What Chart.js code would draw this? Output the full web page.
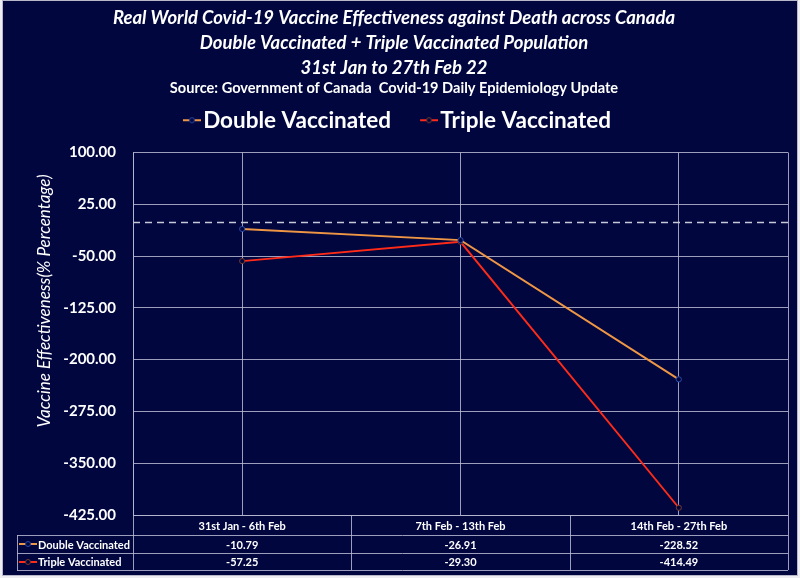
<!DOCTYPE html>
<html>
<head>
<meta charset="utf-8">
<script src="https://cdn.jsdelivr.net/npm/chart.js@4.4.1/dist/chart.umd.min.js"></script>
<style>
html,body{margin:0;padding:0;background:#ffffff;}
#wrap{width:800px;height:578px;}
</style>
</head>
<body>
<div id="wrap"><canvas id="c" width="800" height="578"></canvas></div>
<script>
// ---- data ----
const categories = ['31st Jan - 6th Feb', '7th Feb - 13th Feb', '14th Feb - 27th Feb'];
const doubleVaccinated = [-10.79, -26.91, -228.52];
const tripleVaccinated = [-57.25, -29.30, -414.49];
const seriesNames = ['Double Vaccinated', 'Triple Vaccinated'];
const yMin = -425;
const yMax = 100;
const yStep = 75;
const referenceValue = 0;
const titleLines = [
  'Real World Covid-19 Vaccine Effectiveness against Death across Canada',
  'Double Vaccinated + Triple Vaccinated Population',
  '31st Jan to 27th Feb 22'
];
const sourceLine = 'Source: Government of Canada  Covid-19 Daily Epidemiology Update';
const yAxisTitle = 'Vaccine Effectiveness(% Percentage)';

// ---- styles ----
const NAVY = '#01063f';
const GRID = 'rgba(185,185,210,0.85)';
const ORANGE = '#ef9645';
const RED = '#ff2a18';
const FONT = 'Lato';

function makeMarker(lineColor, ringColor, leftPad) {
  const cv = document.createElement('canvas');
  cv.width = 18 + leftPad; cv.height = 8;
  const g = cv.getContext('2d');
  g.strokeStyle = lineColor; g.lineWidth = 2;
  g.beginPath(); g.moveTo(leftPad, 4); g.lineTo(leftPad + 18, 4); g.stroke();
  g.fillStyle = NAVY; g.strokeStyle = ringColor; g.lineWidth = 1;
  g.beginPath(); g.arc(leftPad + 9, 4, 2.5, 0, Math.PI * 2); g.fill(); g.stroke();
  return cv;
}
const markers = [makeMarker(ORANGE, '#2a4aa8', 0), makeMarker(RED, '#7a3a30', 0)];
const legendMarkers = [makeMarker(ORANGE, '#2a4aa8', 15), makeMarker(RED, '#7a3a30', 15)];

const bgPlugin = {
  id: 'bg',
  beforeDraw(chart) {
    const ctx = chart.ctx;
    ctx.save();
    ctx.fillStyle = '#eeeef2';
    ctx.fillRect(0, 0, chart.width, chart.height);
    ctx.fillStyle = NAVY;
    ctx.fillRect(3, 1, 794, 574);
    ctx.strokeStyle = '#b8b8c8';
    ctx.lineWidth = 1;
    ctx.strokeRect(2.5, 0.5, 795, 575);
    ctx.restore();
  }
};

const legendSpacer = {
  id: 'legendSpacer',
  afterInit(chart) {
    const lg = chart.legend;
    const orig = lg.fit.bind(lg);
    lg.fit = function () { orig(); this.height += 11; };
  }
};

const refLinePlugin = {
  id: 'refLine',
  beforeDatasetsDraw(chart) {
    const {ctx, chartArea} = chart;
    const y = chart.scales.y.getPixelForValue(referenceValue);
    ctx.save();
    ctx.strokeStyle = '#c8c8d8';
    ctx.lineWidth = 1.5;
    ctx.setLineDash([7, 5]);
    ctx.beginPath();
    ctx.moveTo(chartArea.left, Math.round(y) + 0.5);
    ctx.lineTo(chartArea.right, Math.round(y) + 0.5);
    ctx.stroke();
    ctx.restore();
  }
};

const tablePlugin = {
  id: 'dataTable',
  afterDraw(chart) {
    const {ctx, chartArea} = chart;
    const xs = chart.scales.x;
    const half = (xs.getPixelForValue(1) - xs.getPixelForValue(0)) / 2;
    const L = chartArea.left, R = chartArea.right, B = chartArea.bottom;
    const keyLeft = 17;
    const rowY = [B, B + 20, B + 38, B + 55];
    ctx.save();
    ctx.strokeStyle = GRID;
    ctx.lineWidth = 1;
    ctx.beginPath();
    ctx.moveTo(Math.round(R) + 0.5, chartArea.top);
    ctx.lineTo(Math.round(R) + 0.5, rowY[3]);
    ctx.moveTo(Math.round(L) + 0.5, chartArea.top);
    ctx.lineTo(Math.round(L) + 0.5, rowY[3]);
    ctx.moveTo(L, Math.round(rowY[0]) + 0.5); ctx.lineTo(R, Math.round(rowY[0]) + 0.5);
    for (let r = 1; r < 4; r++) {
      ctx.moveTo(keyLeft, Math.round(rowY[r]) + 0.5); ctx.lineTo(R, Math.round(rowY[r]) + 0.5);
    }
    ctx.moveTo(keyLeft + 0.5, Math.round(rowY[1])); ctx.lineTo(keyLeft + 0.5, Math.round(rowY[3]) + 1);
    for (let i = 0; i < categories.length - 1; i++) {
      const bx = Math.round(xs.getPixelForValue(i) + half) + 0.5;
      ctx.moveTo(bx, rowY[0]); ctx.lineTo(bx, rowY[3]);
    }
    ctx.stroke();

    ctx.fillStyle = '#ffffff';
    ctx.textBaseline = 'middle';
    ctx.font = 'bold 11px ' + FONT;
    ctx.textAlign = 'center';
    categories.forEach((c, i) => {
      ctx.fillText(c, xs.getPixelForValue(i), (rowY[0] + rowY[1]) / 2 + 1);
    });
    const series = [doubleVaccinated, tripleVaccinated];
    series.forEach((vals, s) => {
      const cy = (rowY[s + 1] + rowY[s + 2]) / 2 + 1;
      vals.forEach((v, i) => {
        ctx.fillText(v.toFixed(2), xs.getPixelForValue(i), cy);
      });
      ctx.drawImage(markers[s], keyLeft + 2, Math.round(cy - 4) - 1);
    });
    ctx.textAlign = 'left';
    seriesNames.forEach((n, s) => {
      const cy = (rowY[s + 1] + rowY[s + 2]) / 2 + 1;
      ctx.fillText(n, keyLeft + 21, cy);
    });

    ctx.save();
    ctx.translate(45, 301);
    ctx.rotate(-Math.PI / 2);
    ctx.font = 'italic 17px ' + FONT;
    ctx.textAlign = 'center';
    ctx.fillStyle = '#ffffff';
    ctx.fillText(yAxisTitle, 0, 0);
    ctx.restore();
    ctx.restore();
  }
};

new Chart(document.getElementById('c'), {
  type: 'line',
  data: {
    labels: categories,
    datasets: [
      {
        label: seriesNames[0],
        data: doubleVaccinated,
        borderColor: ORANGE,
        backgroundColor: NAVY,
        borderWidth: 1.9,
        pointRadius: 2.6,
        pointBorderWidth: 1,
        pointBorderColor: '#2a4aa8',
        pointBackgroundColor: NAVY,
        pointStyle: 'circle',
        tension: 0
      },
      {
        label: seriesNames[1],
        data: tripleVaccinated,
        borderColor: RED,
        backgroundColor: NAVY,
        borderWidth: 1.9,
        pointRadius: 2.6,
        pointBorderWidth: 1,
        pointBorderColor: '#7a3a30',
        pointBackgroundColor: NAVY,
        pointStyle: 'circle',
        tension: 0
      }
    ]
  },
  options: {
    responsive: false,
    animation: false,
    devicePixelRatio: 1,
    layout: {padding: {left: 0, right: 12, top: 0, bottom: 63}},
    plugins: {
      title: {
        display: true,
        text: titleLines,
        color: '#ffffff',
        font: {family: FONT, size: 18.5, weight: 'bold', style: 'italic', lineHeight: '25px'},
        padding: {top: 5.5, bottom: 0}
      },
      subtitle: {
        display: true,
        text: sourceLine,
        color: '#ffffff',
        font: {family: FONT, size: 14.6, weight: 'bold', lineHeight: '15px'},
        padding: {top: 0, bottom: -9.5}
      },
      legend: {
        display: true,
        position: 'top',
        labels: {
          color: '#ffffff',
          font: {family: FONT, size: 22.5, weight: 'bold'},
          usePointStyle: true,
          pointStyleWidth: 15,
          padding: 23,
          generateLabels(chart) {
            return chart.data.datasets.map((ds, i) => ({
              text: ds.label,
              fillStyle: ds.borderColor,
              strokeStyle: ds.borderColor,
              fontColor: '#ffffff',
              pointStyle: legendMarkers[i],
              lineWidth: 0,
              hidden: false,
              datasetIndex: i
            }));
          }
        }
      },
      tooltip: {enabled: false}
    },
    scales: {
      x: {
        type: 'category',
        offset: true,
        grid: {display: true, color: GRID, lineWidth: 1, offset: false, drawTicks: false},
        border: {display: false},
        ticks: {display: false},
        afterFit(scale) { scale.height = 0; }
      },
      y: {
        min: yMin,
        max: yMax,
        grid: {color: GRID, lineWidth: 1, drawTicks: false},
        border: {display: true, color: GRID},
        ticks: {
          stepSize: yStep,
          color: '#ffffff',
          padding: 17,
          font: {family: FONT, size: 15, weight: 'bold'},
          callback: (v) => Number(v).toFixed(2)
        },
        afterFit(scale) { scale.width = 133; }
      }
    }
  },
  plugins: [bgPlugin, legendSpacer, refLinePlugin, tablePlugin]
});
</script>
</body>
</html>
